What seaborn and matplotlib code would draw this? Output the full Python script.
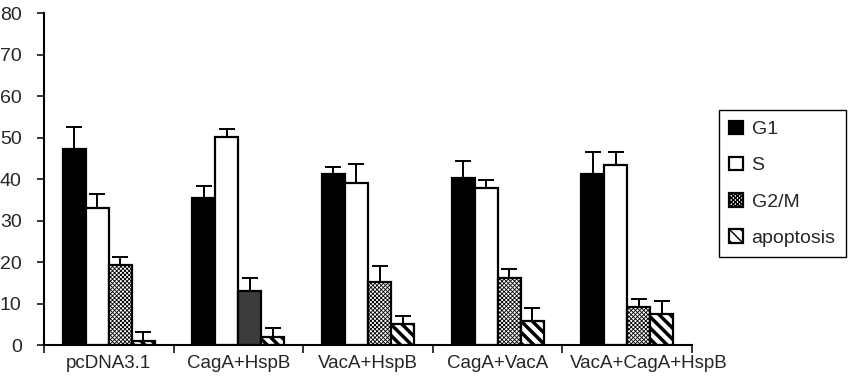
import numpy as np
import pandas as pd
import matplotlib
matplotlib.use('Agg')
import matplotlib.pyplot as plt
import matplotlib.transforms as mtransforms
import seaborn as sns

# values (% of cells)
groups = ['pcDNA3.1', 'CagA+HspB', 'VacA+HspB', 'CagA+VacA', 'VacA+CagA+HspB']
phases = ['G1', 'S', 'G2/M', 'apoptosis']
g1 = [47.3, 35.4, 41.2, 40.2, 41.2]
s_phase = [33.1, 50.1, 39.2, 37.9, 43.4]
g2m = [19.3, 13.0, 15.3, 16.2, 9.1]
apoptosis = [1.0, 1.9, 5.1, 5.9, 7.4]
g1_err = [5.2, 3.0, 1.8, 4.3, 5.3]
s_err = [3.3, 2.0, 4.5, 1.9, 3.1]
g2m_err = [2.0, 3.1, 3.8, 2.2, 1.9]
apoptosis_err = [2.2, 2.1, 1.9, 3.0, 3.3]

values = [g1, s_phase, g2m, apoptosis]
errors = [g1_err, s_err, g2m_err, apoptosis_err]

rows = []
for p, vals in zip(phases, values):
    for g, v in zip(groups, vals):
        rows.append({'group': g, 'phase': p, 'value': v})
df = pd.DataFrame(rows)

sns.set_style('white')
plt.rcParams['font.family'] = ['Liberation Sans', 'DejaVu Sans']
plt.rcParams['hatch.color'] = 'black'

fig = plt.figure(figsize=(8.67, 3.79), dpi=100)
ax = fig.add_axes([0.0507, 0.0897, 0.7475, 0.875])

sns.barplot(data=df, x='group', y='value', hue='phase', order=groups, hue_order=phases,
            palette=['black', 'white', 'white', 'white'], width=0.71, errorbar=None,
            edgecolor='black', linewidth=1.6, ax=ax, legend=False)

hatches = [None, None, 'xxxxxxxx', '\\\\\\']
hatch_lw = [1, 1, 0.6, 2.5]
for cont, h, lw, err in zip(ax.containers, hatches, hatch_lw, errors):
    for i, bar in enumerate(cont.patches):
        if h:
            bar.set_hatch(h)
            if hasattr(bar, 'set_hatch_linewidth'):
                bar.set_hatch_linewidth(lw)
        x = bar.get_x() + bar.get_width() / 2
        ax.errorbar(x, bar.get_height(), yerr=[[0], [err[i]]], color='black',
                    elinewidth=1.4, capsize=6, capthick=1.4, zorder=1)

# the G2/M bar for CagA+HspB prints as a solid dark grey
ax.containers[2].patches[1].set_hatch(None)
ax.containers[2].patches[1].set_facecolor('#3c3c3c')

ax.set_ylim(0, 80)
ax.set_xlim(-0.5, 4.5)
ax.set_yticks(range(0, 81, 10))
ax.set_xlabel('')
ax.set_ylabel('')
sns.despine(ax=ax)
for sp in ['left', 'bottom']:
    ax.spines[sp].set_linewidth(1.5)
    ax.spines[sp].set_color('black')

ax.tick_params(axis='y', which='major', left=True, length=5, width=1.3, pad=11, labelsize=14)
ax.tick_params(axis='x', which='major', length=0, pad=7, labelsize=13.5)
ax.set_xticks(np.arange(-0.5, 5, 1), minor=True)
ax.tick_params(axis='x', which='minor', bottom=True, length=6, width=1.3, direction='out')

# the last label sits a little to the right, as in the original
last = ax.get_xticklabels()[-1]
last.set_transform(last.get_transform() + mtransforms.ScaledTranslation(0.22, 0, fig.dpi_scale_trans))

ax.legend(ax.containers, phases, loc='upper left', bbox_to_anchor=(0.822, 0.725),
          bbox_transform=fig.transFigure, frameon=True, fancybox=False, framealpha=1,
          edgecolor='black', fontsize=14, handlelength=0.7, handleheight=0.7,
          handletextpad=0.45, labelspacing=0.95, borderpad=0.55, borderaxespad=0.3)
ax.get_legend().get_frame().set_linewidth(1.0)

fig.savefig('out.png', dpi=100)
